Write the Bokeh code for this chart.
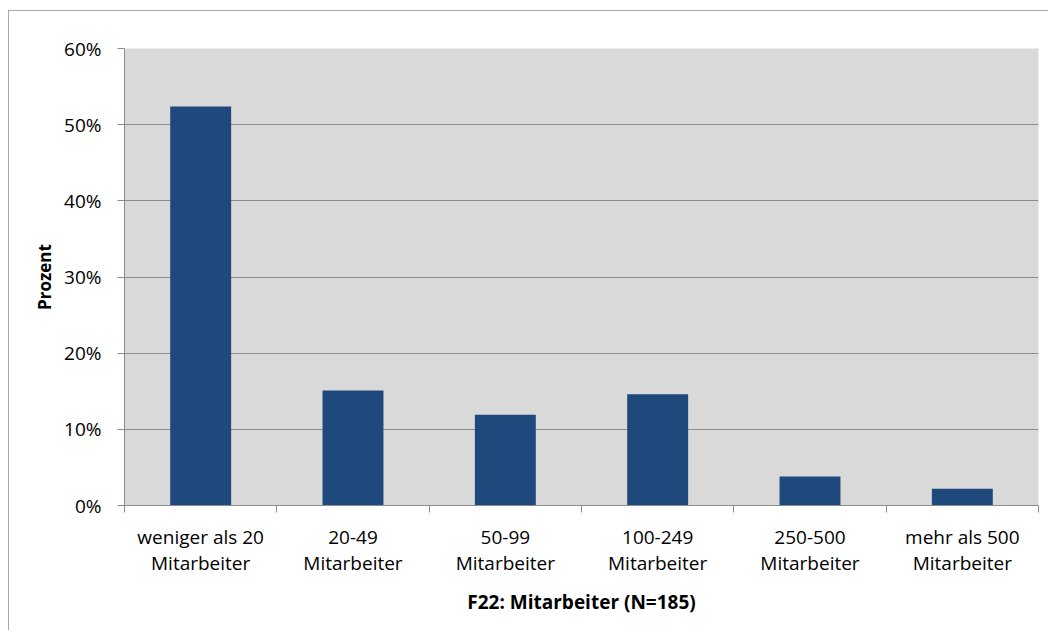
from bokeh.plotting import figure
from bokeh.models import FixedTicker, PrintfTickFormatter, Range1d, ColumnDataSource
from bokeh.embed import file_html
from bokeh.resources import INLINE

categories = ["weniger als 20\nMitarbeiter", "20-49\nMitarbeiter", "50-99\nMitarbeiter",
              "100-249\nMitarbeiter", "250-500\nMitarbeiter", "mehr als 500\nMitarbeiter"]
percent = [52.4, 15.1, 11.9, 14.6, 3.8, 2.2]
y_ticks = [0, 10, 20, 30, 40, 50, 60]
x_title = "F22: Mitarbeiter (N=185)"
y_title = "Prozent"

n = len(categories)
centers = [i + 0.5 for i in range(n)]
bounds = list(range(n + 1))

FONT = "Open Sans"
GRAY = "#8c8c8c"

p = figure(width=1040, height=620, output_backend="svg", toolbar_location=None,
           x_range=Range1d(0, n), y_range=Range1d(0, 60),
           min_border_left=115, min_border_top=37, min_border_right=11, min_border_bottom=126,
           background_fill_color="#d9d9d9", border_fill_color="white")
p.styles = {"border-left": "1px solid #a6a6a6", "border-top": "1px solid #a6a6a6",
            "margin-top": "10px", "margin-left": "8px"}
p.outline_line_color = None

src = ColumnDataSource(dict(x=centers, top=percent))
p.vbar(x="x", top="top", width=0.4, source=src, fill_color="#1f497d", line_color=None)

# y axis
p.yaxis.ticker = FixedTicker(ticks=y_ticks)
p.yaxis.formatter = PrintfTickFormatter(format="%d%%")
p.yaxis.major_tick_out = 7
p.yaxis.major_tick_in = 0
p.yaxis.minor_tick_line_color = None
p.yaxis.axis_line_color = GRAY
p.yaxis.major_tick_line_color = GRAY
p.yaxis.major_label_standoff = 16
p.yaxis.major_label_text_font = FONT
p.yaxis.major_label_text_font_size = "19px"
p.yaxis.major_label_text_color = "black"
p.yaxis.axis_label = y_title
p.yaxis.axis_label_text_font = FONT
p.yaxis.axis_label_text_font_style = "bold"
p.yaxis.axis_label_text_font_size = "17px"
p.yaxis.axis_label_text_color = "black"
p.yaxis.axis_label_standoff = 5

p.ygrid.ticker = FixedTicker(ticks=y_ticks)
p.ygrid.grid_line_color = GRAY
p.xgrid.grid_line_color = None

# x axis
p.xaxis.ticker = FixedTicker(ticks=centers, minor_ticks=bounds)
p.xaxis.major_label_overrides = {c: lab for c, lab in zip(centers, categories)}
p.xaxis.major_tick_line_color = None
p.xaxis.minor_tick_out = 7
p.xaxis.minor_tick_in = 0
p.xaxis.minor_tick_line_color = GRAY
p.xaxis.axis_line_color = GRAY
p.xaxis.major_label_standoff = 11
p.xaxis.major_label_text_font = FONT
p.xaxis.major_label_text_font_size = "19px"
p.xaxis.major_label_text_color = "black"
p.xaxis.major_label_text_line_height = 1.0
p.xaxis.axis_label = x_title
p.xaxis.axis_label_text_font = FONT
p.xaxis.axis_label_text_font_style = "bold"
p.xaxis.axis_label_text_font_size = "19px"
p.xaxis.axis_label_text_color = "black"
p.xaxis.axis_label_standoff = 10

open("out.html", "w").write(file_html(p, INLINE))
